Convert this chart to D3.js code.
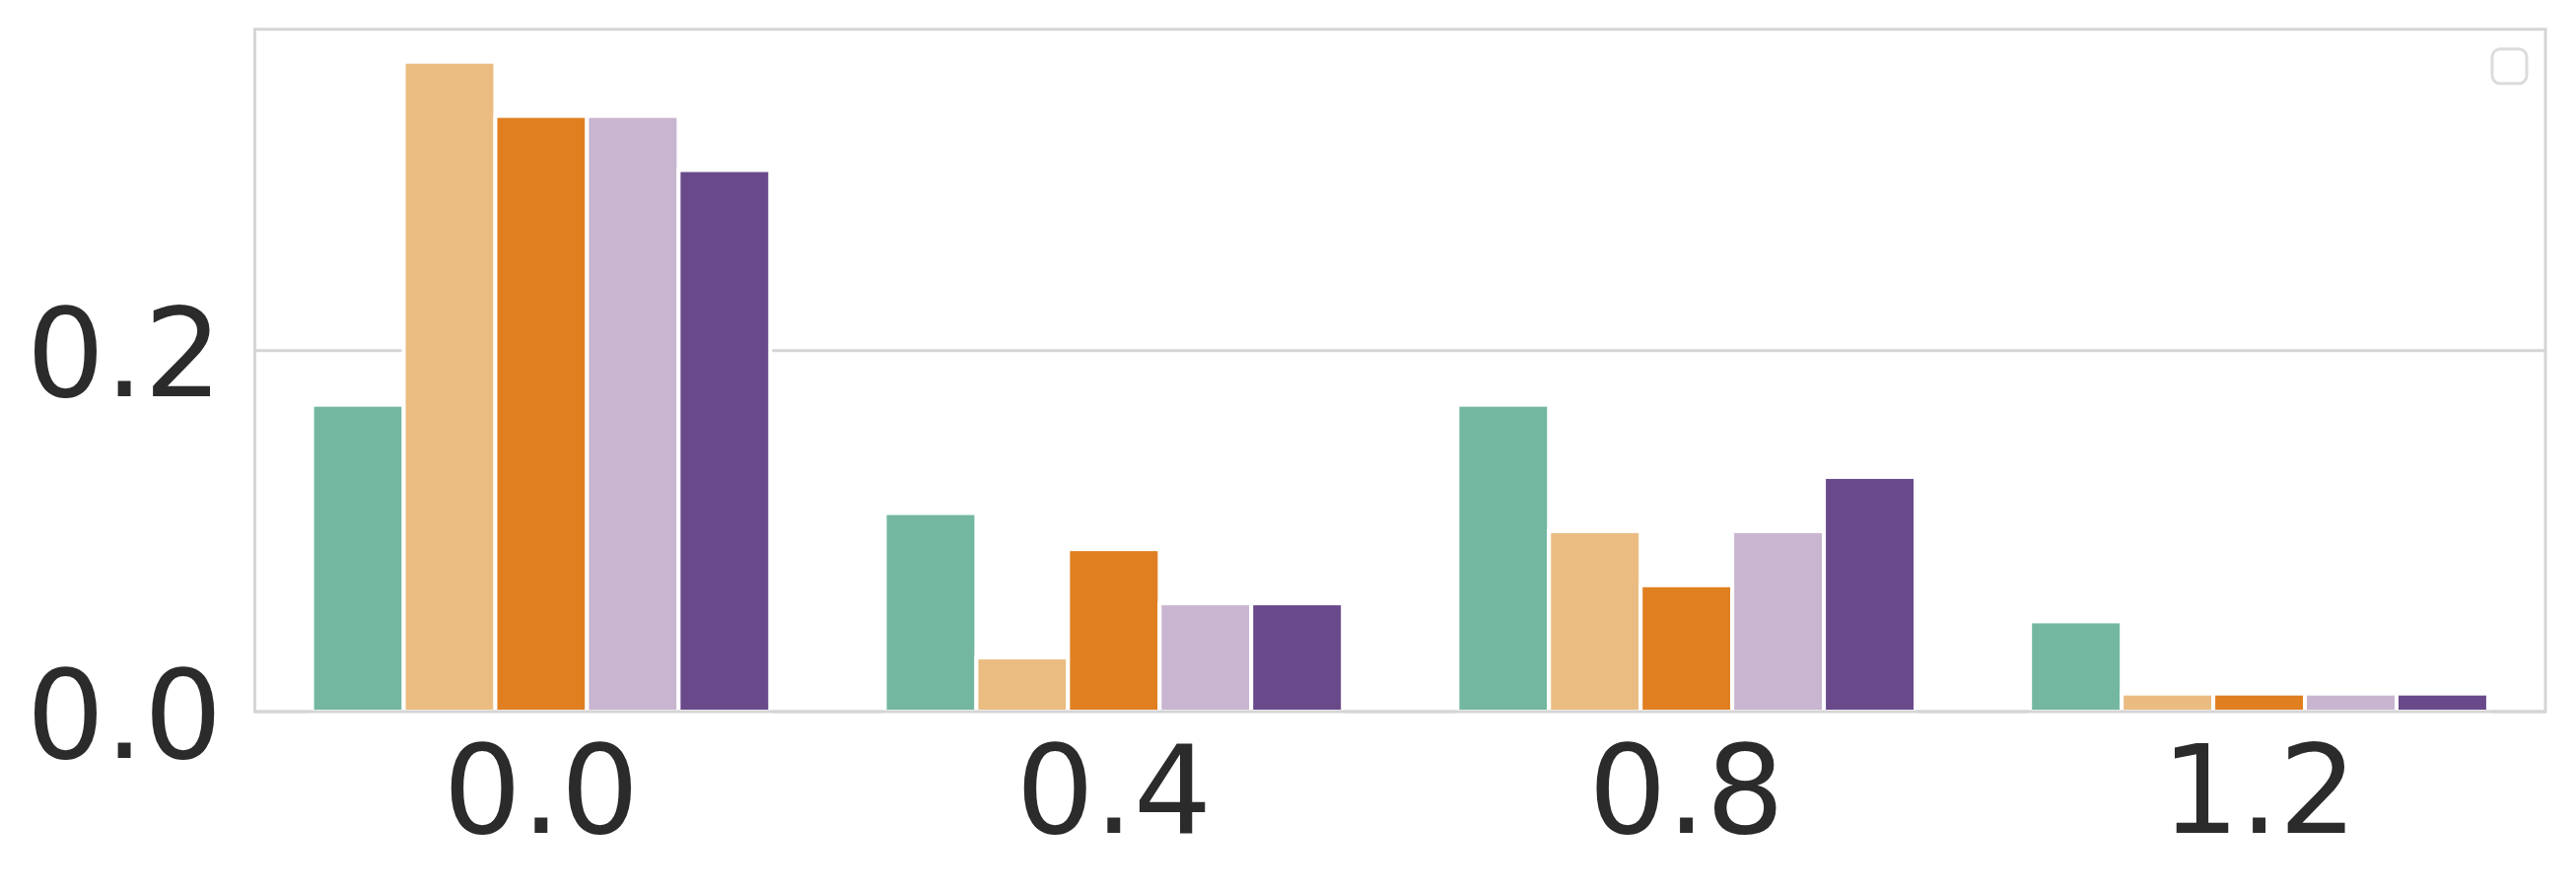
<!DOCTYPE html>
<html>
  <head>
    <meta charset="utf-8">
    <title>Grouped bars</title>
    <script src="https://d3js.org/d3.v7.min.js" charset="utf-8"></script>
    <style>
      body {
        margin: 0;
        overflow: hidden;
        background: #ffffff;
      }
      text {
        font-family: "DejaVu Sans", sans-serif;
      }
    </style>
  </head>
  <body>
    <script type="text/javascript">
      // data
      var categories = ["0.0", "0.4", "0.8", "1.2"];
      var seriesNames = ["s1", "s2", "s3", "s4", "s5"];
      var seriesColors = ["#73b7a1", "#eabc81", "#e07f20", "#c8b5d0", "#6a498b"];
      var values = [
        [0.17, 0.11, 0.17, 0.05],   // s1
        [0.36, 0.03, 0.10, 0.01],   // s2
        [0.33, 0.09, 0.07, 0.01],   // s3
        [0.33, 0.06, 0.10, 0.01],   // s4
        [0.30, 0.06, 0.13, 0.01]    // s5
      ];
      var yTicks = [0.0, 0.2];
      var yMax = 0.378;

      var width = 2613,
          height = 904;

      var margin = {left: 258.5, right: 2613 - 2582, top: 29.7, bottom: 904 - 722};

      var svg = d3.select("body").append("svg")
                  .attr("width", width)
                  .attr("height", height);

      var x0 = d3.scaleBand()
                 .domain(categories)
                 .range([margin.left, width - margin.right])
                 .paddingInner(0)
                 .paddingOuter(0);

      var bw = x0.bandwidth();
      var x1 = d3.scaleBand()
                 .domain(seriesNames)
                 .range([0.1 * bw, 0.9 * bw]);

      var y = d3.scaleLinear()
                .domain([0, yMax])
                .range([height - margin.bottom, margin.top]);

      var gridColor = "#d5d5d5";

      // horizontal grid
      svg.append("g")
        .selectAll("line")
        .data(yTicks)
        .enter()
        .append("line")
        .attr("x1", margin.left)
        .attr("x2", width - margin.right)
        .attr("y1", function(d) { return y(d); })
        .attr("y2", function(d) { return y(d); })
        .attr("stroke", gridColor)
        .attr("stroke-width", 3);

      // flatten into bar records
      var bars = [];
      seriesNames.forEach(function(s, i) {
        categories.forEach(function(c, j) {
          bars.push({series: s, cat: c, value: values[i][j], color: seriesColors[i]});
        });
      });

      svg.append("g")
        .selectAll("rect")
        .data(bars)
        .enter()
        .append("rect")
        .attr("x", function(d) { return x0(d.cat) + x1(d.series); })
        .attr("width", x1.bandwidth())
        .attr("y", function(d) { return y(d.value); })
        .attr("height", function(d) { return y(0) - y(d.value); })
        .attr("fill", function(d) { return d.color; })
        .attr("stroke", "#ffffff")
        .attr("stroke-width", 4);

      // spines
      svg.append("rect")
        .attr("x", margin.left)
        .attr("y", margin.top)
        .attr("width", width - margin.right - margin.left)
        .attr("height", height - margin.bottom - margin.top)
        .attr("fill", "none")
        .attr("stroke", gridColor)
        .attr("stroke-width", 3);

      // axes
      var yAxis = d3.axisLeft(y)
                    .tickValues(yTicks)
                    .tickSize(0)
                    .tickPadding(33)
                    .tickFormat(d3.format(".1f"));

      var xAxis = d3.axisBottom(x0)
                    .tickSize(0)
                    .tickPadding(34);

      var gy = svg.append("g")
        .attr("transform", "translate(" + margin.left + ",0)")
        .call(yAxis);

      var gx = svg.append("g")
        .attr("transform", "translate(0," + (height - margin.bottom) + ")")
        .call(xAxis);

      [gx, gy].forEach(function(g) {
        g.select(".domain").remove();
        g.selectAll("text")
          .attr("font-family", "DejaVu Sans, sans-serif")
          .attr("font-size", 125)
          .attr("fill", "#2b2b2b");
      });
      gy.selectAll("text").attr("dy", "0.37em");

      // empty legend frame, top right
      svg.append("rect")
        .attr("x", width - margin.right - 54)
        .attr("y", margin.top + 20)
        .attr("width", 35)
        .attr("height", 35)
        .attr("rx", 8)
        .attr("fill", "#ffffff")
        .attr("stroke", "#dcdcdc")
        .attr("stroke-width", 3);
    </script>
  </body>
</html>
